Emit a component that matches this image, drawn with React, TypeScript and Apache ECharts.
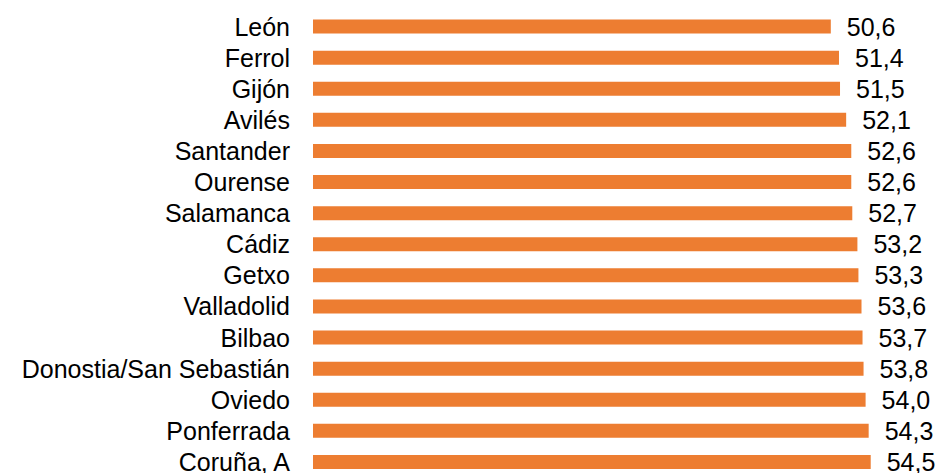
import React, { useEffect, useRef } from "react";
import * as echarts from "echarts";

const categories = [
  "León",
  "Ferrol",
  "Gijón",
  "Avilés",
  "Santander",
  "Ourense",
  "Salamanca",
  "Cádiz",
  "Getxo",
  "Valladolid",
  "Bilbao",
  "Donostia/San Sebastián",
  "Oviedo",
  "Ponferrada",
  "Coruña, A",
];

const values = [50.6, 51.4, 51.5, 52.1, 52.6, 52.6, 52.7, 53.2, 53.3, 53.6, 53.7, 53.8, 54.0, 54.3, 54.5];

const BAR_COLOR = "#ED7D31";
const FONT = "'Liberation Sans', Arial, sans-serif";

export default function App() {
  const ref = useRef<HTMLDivElement>(null);

  useEffect(() => {
    if (!ref.current) return;
    const chart = echarts.init(ref.current, undefined, { renderer: "svg" });
    chart.setOption({
      animation: false,
      backgroundColor: "#ffffff",
      grid: { left: 313, right: 8, top: 11, bottom: 2.5, containLabel: false },
      xAxis: {
        type: "value",
        min: 0,
        max: 60,
        show: false,
      },
      yAxis: {
        type: "category",
        data: categories,
        inverse: true,
        axisLine: { show: false },
        axisTick: { show: false },
        splitLine: { show: false },
        axisLabel: {
          interval: 0,
          margin: 23,
          color: "#000000",
          fontSize: 25,
          fontFamily: FONT,
        },
      },
      series: [
        {
          type: "bar",
          data: values,
          barWidth: 14,
          itemStyle: { color: BAR_COLOR },
          label: {
            show: true,
            position: "right",
            distance: 16,
            color: "#000000",
            fontSize: 25,
            fontFamily: FONT,
            formatter: (p: any) => Number(p.value).toFixed(1).replace(".", ","),
          },
        },
      ],
    });
    return () => chart.dispose();
  }, []);

  return (
    <div style={{ position: "fixed", left: 0, top: 0, width: 935, height: 473, overflow: "hidden", background: "#fff" }}>
      <div ref={ref} style={{ width: 935, height: 480 }} />
    </div>
  );
}
